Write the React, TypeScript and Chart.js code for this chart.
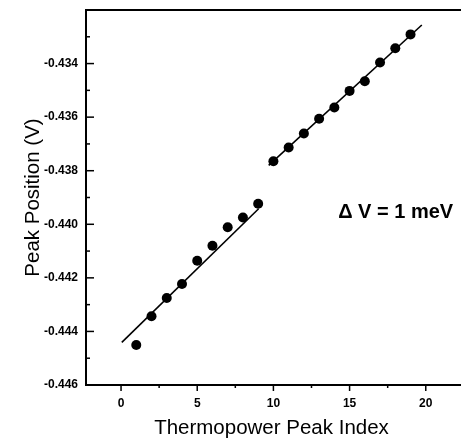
import React, { useEffect, useRef } from "react";
import { Chart, registerables } from "chart.js";

Chart.register(...registerables);

const peakIndex = [1, 2, 3, 4, 5, 6, 7, 8, 9, 10, 11, 12, 13, 14, 15, 16, 17, 18, 19];
const peakPosition = [
  -0.44451, -0.44343, -0.44275, -0.44223, -0.44136, -0.4408, -0.44011, -0.43975, -0.43923,
  -0.43765, -0.43713, -0.43661, -0.43606, -0.43564, -0.43502, -0.43466, -0.43396, -0.43343, -0.43291,
];
const fitLowX = [0.05, 9.03];
const fitLowY = [-0.44441, -0.43942];
const fitHighX = [9.69, 19.74];
const fitHighY = [-0.4378, -0.43256];
const annotationText = "\u0394 V = 1 meV";
const xTitle = "Thermopower Peak Index";
const yTitle = "Peak Position (V)";

export default function App() {
  const ref = useRef<HTMLCanvasElement>(null);
  useEffect(() => {
    const canvas = ref.current;
    if (!canvas) return;
    const ticksPlugin = {
      id: "frameTicks",
      afterDraw(chart: any) {
        const ctx = chart.ctx;
        const { left, right, top, bottom } = chart.chartArea;
        const frameRight = chart.width - 1;
        const xs = chart.scales.x;
        const ys = chart.scales.y;
        ctx.save();
        ctx.strokeStyle = "#000";
        ctx.lineWidth = 2;
        ctx.beginPath();
        ctx.moveTo(left - 1, top);
        ctx.lineTo(frameRight, top);
        ctx.moveTo(right - 1, bottom);
        ctx.lineTo(frameRight, bottom);
        ctx.stroke();
        ctx.lineWidth = 1.5;
        for (let k = -446; k <= -432; k++) {
          const py = ys.getPixelForValue(k / 1000);
          if (py < top - 0.5 || py > bottom + 0.5) continue;
          const len = k % 2 === 0 ? 8 : 4;
          ctx.beginPath();
          ctx.moveTo(left, py);
          ctx.lineTo(left + len, py);
          ctx.stroke();
        }
        for (let k = 0; k <= 8; k++) {
          const v = k * 2.5;
          const px = xs.getPixelForValue(v);
          if (px < left || px > right) continue;
          const len = k % 2 === 0 ? 6 : 3;
          ctx.beginPath();
          ctx.moveTo(px, bottom);
          ctx.lineTo(px, bottom + len);
          ctx.stroke();
        }
        ctx.fillStyle = "#000";
        ctx.font = "bold 20px 'Liberation Sans', Arial, sans-serif";
        ctx.textAlign = "left";
        ctx.textBaseline = "middle";
        ctx.fillText(annotationText, xs.getPixelForValue(14.25), ys.getPixelForValue(-0.43956));
        ctx.restore();
      },
    };
    const chart = new Chart(canvas, {
      type: "scatter",
      data: {
        datasets: [
          {
            type: "line",
            data: fitLowX.map((x, i) => ({ x, y: fitLowY[i] })),
            borderColor: "#000",
            borderWidth: 1.6,
            pointRadius: 0,
            showLine: true,
          } as any,
          {
            type: "line",
            data: fitHighX.map((x, i) => ({ x, y: fitHighY[i] })),
            borderColor: "#000",
            borderWidth: 1.6,
            pointRadius: 0,
            showLine: true,
          } as any,
          {
            data: peakIndex.map((x, i) => ({ x, y: peakPosition[i] })),
            backgroundColor: "#000",
            borderColor: "#000",
            borderWidth: 0,
            pointRadius: 5,
          },
        ],
      },
      options: {
        responsive: false,
        animation: false,
        devicePixelRatio: 1,
        layout: { padding: { left: 0, top: 10, right: 0, bottom: 0 } },
        plugins: { legend: { display: false }, tooltip: { enabled: false } },
        scales: {
          x: {
            type: "linear",
            min: -2.3,
            max: 22.05,
            afterFit(scale: any) {
              scale.height = 56;
              scale.paddingRight = 0;
              scale.paddingLeft = 0;
            },
            afterBuildTicks(scale: any) {
              scale.ticks = [0, 5, 10, 15, 20].map((v) => ({ value: v }));
            },
            grid: { drawOnChartArea: false, drawTicks: false },
            border: { display: true, color: "#000", width: 2 },
            ticks: {
              padding: 11,
              color: "#000",
              font: { family: "'Liberation Sans', Arial, sans-serif", size: 12, weight: "bold" },
              callback: (v: any) => String(v),
              maxRotation: 0,
            },
            title: {
              display: true,
              text: xTitle,
              color: "#000",
              padding: { top: 0, bottom: 0 },
              font: { family: "'Liberation Sans', Arial, sans-serif", size: 20.5 },
            },
          },
          y: {
            type: "linear",
            min: -0.446,
            max: -0.432,
            afterFit(scale: any) {
              scale.width = 86;
              scale.paddingTop = 0;
              scale.paddingBottom = 0;
            },
            afterBuildTicks(scale: any) {
              const t: any[] = [];
              for (let k = -446; k <= -434; k += 2) t.push({ value: k / 1000 });
              scale.ticks = t;
            },
            grid: { drawOnChartArea: false, drawTicks: false },
            border: { display: true, color: "#000", width: 2 },
            ticks: {
              padding: 8,
              color: "#000",
              font: { family: "'Liberation Sans', Arial, sans-serif", size: 12, weight: "bold" },
              callback: (v: any) => Number(v).toFixed(3),
            },
            title: {
              display: true,
              text: yTitle,
              color: "#000",
              padding: { top: 21, bottom: 0 },
              font: { family: "'Liberation Sans', Arial, sans-serif", size: 20.5 },
            },
          },
        },
      },
      plugins: [ticksPlugin],
    } as any);
    return () => chart.destroy();
  }, []);
  return (
    <div style={{ position: "absolute", left: 0, top: 0, width: 462, height: 441, background: "#fff" }}>
      <canvas ref={ref} width={462} height={441} style={{ display: "block", width: 462, height: 441 }} />
    </div>
  );
}
